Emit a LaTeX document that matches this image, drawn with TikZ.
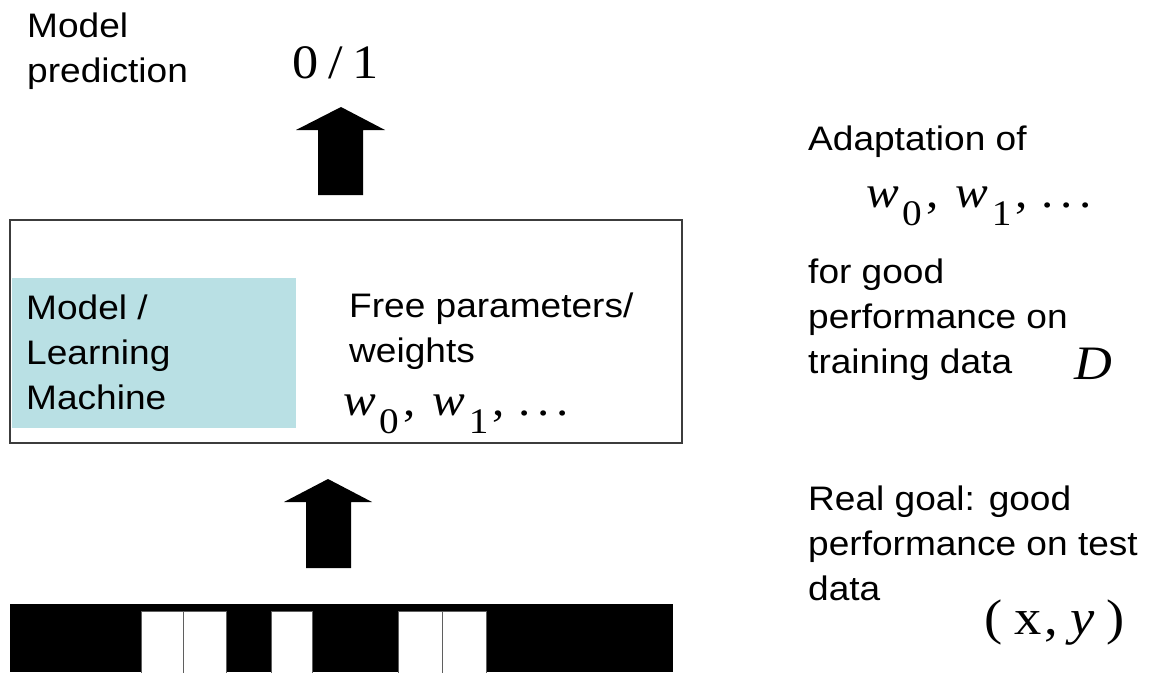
\documentclass[tikz,border=0pt]{standalone}
\usepackage{fontspec}
\usepackage{graphicx}
\setmainfont{Liberation Sans}
\newfontfamily\tnr{Liberation Serif}
\definecolor{machineteal}{RGB}{185,224,228}
\definecolor{framegray}{RGB}{60,60,60}
\definecolor{cellgray}{RGB}{95,95,95}
% text in the slide is slightly wider than the font's natural width
\newcommand\stretchx[1]{\scalebox{1.09}[1]{#1}}
\newcommand\txtlines[1]{\stretchx{\begin{tabular}[t]{@{}l@{}}#1\end{tabular}}}
\newcommand\subsc[1]{\raisebox{-18pt}{\fontsize{36}{36}\selectfont #1}}
\newcommand\wseq{{\itshape w}\kern3pt\subsc{0}\kern4pt,\kern16pt{\itshape w}\kern3pt\subsc{1}\kern4pt,\kern12pt.\kern6.5pt.\kern6.5pt.}
\tikzset{
  labeltext/.style={anchor=base west, inner sep=0pt, font=\fontsize{34}{45}\selectfont},
  mathtext/.style={anchor=base west, inner sep=0pt, font=\fontsize{45}{45}\selectfont\tnr},
  frame/.style={draw=framegray, line width=1.2pt},
  machine/.style={fill=machineteal},
  blockarrow/.style={fill=black},
  cell/.style={fill=white, draw=cellgray, line width=1pt}
}
\begin{document}
\begin{tikzpicture}[x=1pt, y=-1pt]
\useasboundingbox (0,0) rectangle (1150,672);
\fill[white] (0,0) rectangle (1150,672);

% output label and value
\node[labeltext] (predlbl) at (27,37) {\txtlines{Model\\prediction}};
\node[mathtext, font=\fontsize{48}{48}\selectfont\tnr] (output) at (292,78) {\stretchx{0\kern9pt/\kern9pt1}};

% model box with the learning machine and its weights
\draw[frame] (10,220) rectangle (682,443);
\fill[machine] (12,278) rectangle (296,428);
\node[labeltext] (machinelbl) at (26,319) {\txtlines{Model /\\Learning\\Machine}};
\node[labeltext] (weightslbl) at (349,317) {\txtlines{Free parameters/\\weights}};
\node[mathtext] (weights) at (343,415) {\stretchx{\wseq}};

% input pattern
\fill[black] (10,604) rectangle (673,672);
\foreach \xa/\xb [count=\i] in {141/183,183/226,271/312,398/442,442/486}
  \draw[cell] (\xa,611) rectangle (\xb,673);

% block arrows: input -> model -> prediction
\coordinate (inTop) at (328,568);
\coordinate (boxTop) at (341,195);
\fill[blockarrow] (inTop) ++(-22,0) -- ++(0,-66) -- ++(-22,0) -- (328,479) -- (372,502) -- (351,502) -- (351,568) -- cycle;
\fill[blockarrow] (boxTop) ++(-23,0) -- ++(0,-65) -- ++(-22,0) -- (341,107) -- (385,130) -- (363,130) -- (363,195) -- cycle;

% right-hand notes
\node[labeltext] (adaptlbl) at (808,150) {\txtlines{Adaptation of}};
\node[mathtext] (weightsR) at (866,207) {\stretchx{\wseq}};
\node[labeltext] (trainlbl) at (808,283) {\txtlines{for good\\performance on\\training data}};
\node[mathtext, font=\fontsize{48}{48}\selectfont\tnr] (trainset) at (1074,379) {\stretchx{\itshape D}};
\node[labeltext] (goallbl) at (808,510) {\txtlines{Real goal: good\\performance on test\\data}};
\node[mathtext, font=\fontsize{50}{50}\selectfont\tnr] (testpair) at (984,634) {\stretchx{(\kern11pt x\kern3pt,\kern11pt{\itshape y}\kern11pt)}};
\end{tikzpicture}
\end{document}
